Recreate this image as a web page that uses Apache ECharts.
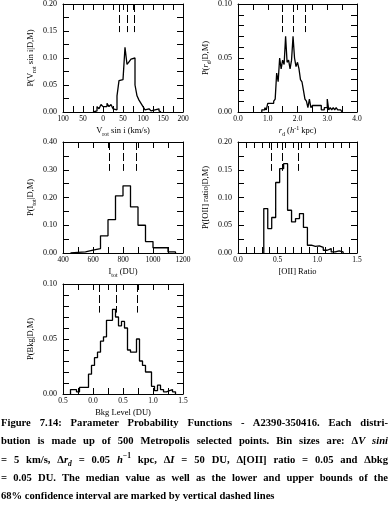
<!DOCTYPE html>
<html><head><meta charset="utf-8">
<script src="https://cdn.jsdelivr.net/npm/echarts@6/dist/echarts.min.js"></script>
<style>
html,body{margin:0;padding:0;background:#fff;}
#chart{position:absolute;left:0;top:0;width:389px;height:508px;}
#cap{position:absolute;left:1px;top:414px;width:387px;font-family:"Liberation Serif",serif;font-weight:bold;font-size:10.6px;line-height:18.3px;color:#000;}
#cap .j{text-align:justify;text-align-last:justify;}
#cap sub,#cap sup{font-size:7.5px;line-height:0;}
</style>
</head><body>
<div id="chart"></div>
<div id="cap">
<div class="j">Figure 7.14: Parameter Probability Functions - A2390-350416. Each distri-</div>
<div class="j">bution is made up of 500 Metropolis selected points. Bin sizes are: &Delta;<i>V sini</i></div>
<div class="j">= 5 km/s, &Delta;<i>r</i><sub><i>d</i></sub> = 0.05 <i>h</i><sup>&minus;1</sup> kpc, &Delta;<i>I</i> = 50 DU, &Delta;[OII] ratio = 0.05 and &Delta;bkg</div>
<div class="j">= 0.05 DU. The median value as well as the lower and upper bounds of the</div>
<div>68% confidence interval are marked by vertical dashed lines</div>
</div>
<script>
// ---------- data ----------
// Panel 1: V_rot sin i (km/s), bins of 5 starting at -25
const vrotBinStart = -25, vrotBinWidth = 5;
const vrotValues = [0.002,0.002,0.010,0.006,0.014,0.010,0.010,0.016,0.010,0.014,0.006,0.004,
  0.030,0.058,0.060,0.060,0.120,0.088,0.093,0.098,0.100,0.050,0.030,0.022,0.016,0.010,
  0.004,0.006,0.004,0.002,0.004,0.002,0.006,0.002];
const vrotCI = [41.5, 61.5, 79];
const vrotXLabels = [-100,-50,0,50,100,150,200];
const vrotYLabels = [0,0.05,0.10,0.15,0.20];

// Panel 2: r_d (h^-1 kpc), bins of 0.05 starting at 0.80
const rdBinStart = 0.80, rdBinWidth = 0.05;
const rdValues = [0.002,0.002,0.004,0.002,0.008,0.008,0.008,0.008,0.010,0.012,
  0.036,0.028,0.050,0.040,0.048,0.044,0.070,0.046,0.048,0.040,0.048,0.070,0.050,0.042,
  0.046,0.040,0.030,0.028,0.020,0.012,0.010,0.004,0.012,0.004,0.006,0.006,0.006,0.006,
  0.006,0.006,0.002,0.002,0.004,0.004,0.012,0.002,0.004,0.002,0.004,0.002,0.004,0.002,
  0.002,0.002];
const rdCI = [1.49, 1.87, 2.25];
const rdXLabels = [0,1,2,3,4];
const rdYLabels = [0,0.05,0.10];

// Panel 3: I_tot (DU), bins of 50 starting at 450
const itotBinStart = 450, itotBinWidth = 50;
const itotValues = [0.002,0.004,0.010,0.016,0.062,0.120,0.206,0.242,0.166,0.100,0.041,0.019,0.019,0.004];
const itotCI = [709, 800, 888];
const itotXLabels = [400,600,800,1000,1200];
const itotYLabels = [0,0.10,0.20,0.30,0.40];

// Panel 4: [OII] ratio, bins of 0.05 starting at 0.325
const oiiBinStart = 0.325, oiiBinWidth = 0.05;
const oiiValues = [0.080,0.044,0.064,0.127,0.152,0.161,0.077,0.056,0.062,0.071,0.046,
  0.014,0.012,0.013,0.010,0.005,0.008,0.002,0.004,0.002];
const oiiCI = [0.425, 0.56, 0.76];
const oiiXLabels = [0,0.5,1.0,1.5];
const oiiYLabels = [0,0.05,0.10,0.15,0.20];

// Panel 5: Bkg level (DU), bins of 0.05 starting at -0.375
const bkgBinStart = -0.375, bkgBinWidth = 0.05;
const bkgValues = [0.004,0.004,0.002,0.006,0.006,0.006,0.018,0.026,0.033,0.038,0.048,0.052,
  0.067,0.067,0.077,0.070,0.062,0.066,0.060,0.040,0.038,0.038,0.050,0.030,0.026,0.020,
  0.020,0.007,0.003,0.008,0.004,0.002,0.003,0.004,0.002];
const bkgCI = [0.111, 0.389, 0.731];
const bkgXLabels = [-0.5,0,0.5,1.0,1.5];
const bkgYLabels = [0,0.05,0.10];

// ---------- build ----------
const FONT = '"Liberation Serif", serif';
const rich = {
  n:{fontSize:8.5,fontFamily:FONT,color:'#000',lineHeight:12},
  i:{fontSize:8.5,fontFamily:FONT,color:'#000',fontStyle:'italic',lineHeight:12},
  s:{fontSize:6,fontFamily:FONT,color:'#000',lineHeight:6,verticalAlign:'bottom'},
  p:{fontSize:6,fontFamily:FONT,color:'#000',lineHeight:6,verticalAlign:'top'}
};
function near(v, list){ return list.some(t => Math.abs(t - v) < 1e-7); }

const panels = [
  {grid:{left:63,top:3,width:120,height:109}, xmin:-100,xmax:200,xint:25, ymax:0.20,yint:0.025,
   start:vrotBinStart,w:vrotBinWidth,vals:vrotValues,ci:vrotCI,xl:vrotXLabels,yl:vrotYLabels,
   xfmt:v=>String(Math.abs(Math.round(v))), yfmt:v=>v.toFixed(2),
   xname:'{n|V}{s|rot}{n| sin i (km/s)}', yname:'{n|P(V}{s|rot}{n| sin i|D,M)}'},
  {grid:{left:238,top:3,width:119,height:109}, xmin:0,xmax:4,xint:0.5, ymax:0.10,yint:0.01,
   start:rdBinStart,w:rdBinWidth,vals:rdValues,ci:rdCI,xl:rdXLabels,yl:rdYLabels,
   xfmt:v=>v.toFixed(1), yfmt:v=>v.toFixed(2),
   xname:'{i|r}{s|d}{n| (}{i|h}{p|-1}{n| kpc)}', yname:'{n|P(}{i|r}{s|d}{n||D,M)}'},
  {grid:{left:63,top:142,width:120,height:111}, xmin:400,xmax:1200,xint:100, ymax:0.40,yint:0.05,
   start:itotBinStart,w:itotBinWidth,vals:itotValues,ci:itotCI,xl:itotXLabels,yl:itotYLabels,
   xfmt:v=>String(Math.round(v)), yfmt:v=>v.toFixed(2),
   xname:'{n|I}{s|tot}{n| (DU)}', yname:'{n|P(I}{s|tot}{n||D,M)}'},
  {grid:{left:238,top:142,width:119,height:111}, xmin:0,xmax:1.5,xint:0.1, ymax:0.20,yint:0.025,
   start:oiiBinStart,w:oiiBinWidth,vals:oiiValues,ci:oiiCI,xl:oiiXLabels,yl:oiiYLabels,
   xfmt:v=>v.toFixed(1), yfmt:v=>v.toFixed(2),
   xname:'{n|[OII] Ratio}', yname:'{n|P([OII] ratio|D,M)}'},
  {grid:{left:63,top:284,width:120,height:110}, xmin:-0.5,xmax:1.5,xint:0.25, ymax:0.10,yint:0.01,
   start:bkgBinStart,w:bkgBinWidth,vals:bkgValues,ci:bkgCI,xl:bkgXLabels,yl:bkgYLabels,
   xfmt:v=>Math.abs(v).toFixed(1), yfmt:v=>v.toFixed(2),
   xname:'{n|Bkg Level (DU)}', yname:'{n|P(Bkg|D,M)}'}
];

const grid=[], xAxis=[], yAxis=[], series=[];
const lineC = {color:'#000', width:1};
const tick = {show:true, inside:true, length:6, lineStyle:{color:'#000', width:1}};
panels.forEach((p, gi) => {
  grid.push(p.grid);
  const xb = xAxis.length;
  xAxis.push({gridIndex:gi, type:'value', position:'bottom', min:p.xmin, max:p.xmax, interval:p.xint,
    axisLine:{onZero:false, lineStyle:lineC}, axisTick:tick, splitLine:{show:false},
    axisLabel:{margin:3, fontSize:7.5, fontFamily:FONT, color:'#000',
      formatter:v=> near(v,p.xl) ? p.xfmt(v) : ''},
    name:p.xname, nameLocation:'middle', nameGap:13, nameTextStyle:{rich}});
  xAxis.push({gridIndex:gi, type:'value', position:'top', min:p.xmin, max:p.xmax, interval:p.xint,
    axisLine:{onZero:false, lineStyle:lineC}, axisTick:tick, axisLabel:{show:false}, splitLine:{show:false}});
  const yb = yAxis.length;
  yAxis.push({gridIndex:gi, type:'value', position:'left', min:0, max:p.ymax, interval:p.yint,
    axisLine:{show:true, onZero:false, lineStyle:lineC}, axisTick:tick, splitLine:{show:false},
    axisLabel:{margin:6, fontSize:8, fontFamily:FONT, color:'#000',
      formatter:v=> near(v,p.yl) ? p.yfmt(v) : ''},
    name:p.yname, nameLocation:'middle', nameGap:26, nameRotate:90, nameTextStyle:{rich}});
  yAxis.push({gridIndex:gi, type:'value', position:'right', min:0, max:p.ymax, interval:p.yint,
    axisLine:{show:true, onZero:false, lineStyle:lineC}, axisTick:tick, axisLabel:{show:false}, splitLine:{show:false}});
  const data = [[p.start, 0]];
  p.vals.forEach((v,i)=> data.push([p.start + i*p.w, v]));
  data.push([p.start + p.vals.length*p.w, 0]);
  series.push({type:'line', xAxisIndex:xb, yAxisIndex:yb, step:'end', data, showSymbol:false, symbol:'none',
    lineStyle:{color:'#000', width:1.3}, animation:false, z:3,
    markLine:{silent:true, symbol:['none','none'], label:{show:false}, animation:false,
      lineStyle:{color:'#000', width:1, type:[8,3]},
      data:p.ci.map(x=>[{coord:[x,p.ymax]},{coord:[x,p.ymax*0.74]}])}});
});

const chart = echarts.init(document.getElementById('chart'), null, {renderer:'canvas'});
chart.setOption({animation:false, backgroundColor:'#fff', grid, xAxis, yAxis, series});
</script>
</body></html>
